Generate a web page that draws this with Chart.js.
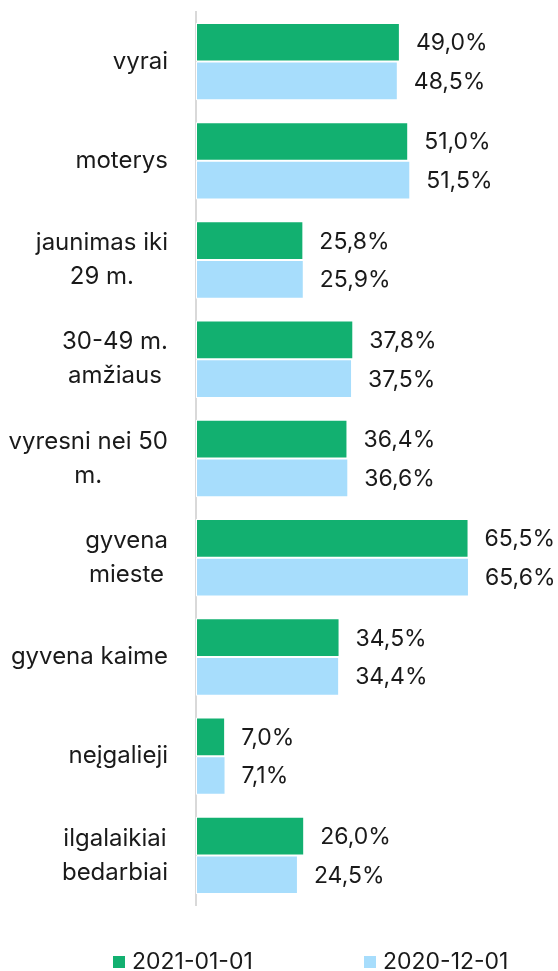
<!DOCTYPE html>
<html><head><meta charset="utf-8">
<script src="https://cdn.jsdelivr.net/npm/chart.js@4/dist/chart.umd.min.js"></script>
<style>html,body{margin:0;padding:0;background:#fff}#wrap{width:558px;height:971px;position:relative}</style>
</head><body><div id="wrap"><canvas id="c"></canvas></div>
<script>
const categories = [["vyrai"],["moterys"],["jaunimas iki","29 m."],["30-49 m.","amžiaus"],["vyresni nei 50","m."],["gyvena","mieste"],["gyvena kaime"],["neįgalieji"],["ilgalaikiai","bedarbiai"]];
const series2021 = [49.0,51.0,25.8,37.8,36.4,65.5,34.5,7.0,26.0];
const series2020 = [48.5,51.5,25.9,37.5,36.6,65.6,34.4,7.1,24.5];
const seriesNames = ["2021-01-01","2020-12-01"];
const colors = ["#12b070","#a7ddfc"];
const FONT = "Inter";

const labelPlugin = {
  id:'custom',
  afterDatasetsDraw(chart){
    const ctx = chart.ctx;
    ctx.save();
    ctx.fillStyle = '#1a1a1a';
    ctx.font = '23px ' + FONT;
    ctx.textBaseline = 'middle';
    ctx.textAlign = 'left';
    chart.data.datasets.forEach((ds,i)=>{
      chart.getDatasetMeta(i).data.forEach((bar,j)=>{
        ctx.fillText(ds.data[j].toFixed(1).replace('.',',')+'%', bar.x+16, bar.y+1);
      });
    });
    // y labels
    const ys = chart.scales.y;
    ctx.font = '24px ' + FONT;
    ctx.textAlign = 'center';
    categories.forEach((lines,j)=>{
      const cy = ys.getPixelForValue(j);
      const maxW = Math.max(...lines.map(l=>ctx.measureText(l).width));
      const cx = 168 - maxW/2;
      const lh = 34;
      lines.forEach((l,k)=>{
        ctx.fillText(l, cx, cy + (k-(lines.length-1)/2)*lh);
      });
    });
    // legend
    ctx.font = '23px ' + FONT;
    ctx.textAlign = 'left';
    const lx = [113,364];
    seriesNames.forEach((n,i)=>{
      ctx.fillStyle = colors[i];
      ctx.fillRect(lx[i], 956, 12, 12);
      ctx.fillStyle = '#1a1a1a';
      ctx.fillText(n, lx[i]+19, 962);
    });
    ctx.restore();
  }
};

new Chart(document.getElementById('c'),{
  type:'bar',
  data:{
    labels: categories.map(c=>c.join(' ')),
    datasets:[
      {label:seriesNames[0],data:series2021,backgroundColor:colors[0],borderColor:'#fff',borderWidth:1,borderSkipped:false},
      {label:seriesNames[1],data:series2020,backgroundColor:colors[1],borderColor:'#fff',borderWidth:1,borderSkipped:false}
    ]
  },
  options:{
    indexAxis:'y',
    responsive:true,maintainAspectRatio:false,animation:false,
    layout:{padding:{top:12,bottom:66,left:0,right:0}},
    categoryPercentage:0.78,barPercentage:1,
    plugins:{legend:{display:false},tooltip:{enabled:false}},
    scales:{
      x:{min:0,max:87,display:false},
      y:{
        grid:{display:false},
        border:{display:true,color:'#d9d9d9',width:2},
        ticks:{display:false},
        afterFit(s){s.width=196;}
      }
    }
  },
  plugins:[labelPlugin]
});
</script></body></html>
